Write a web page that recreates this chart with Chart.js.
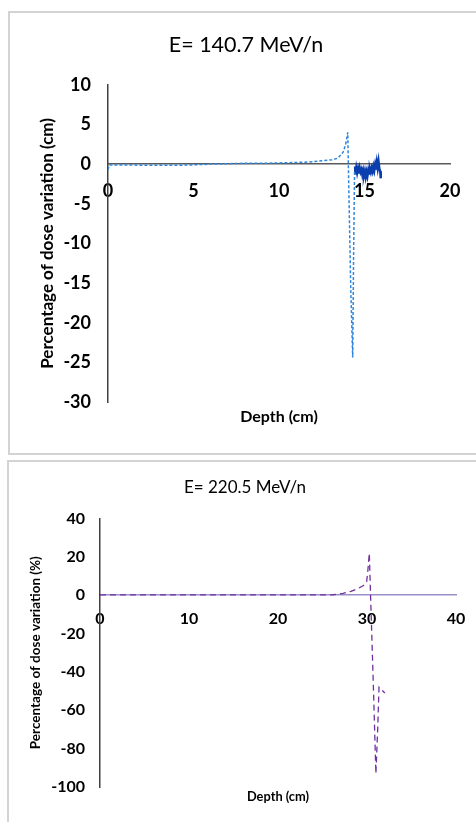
<!DOCTYPE html>
<html>
<head>
<meta charset="utf-8">
<script src="https://cdn.jsdelivr.net/npm/chart.js@4.4.1/dist/chart.umd.min.js"></script>
<style>
    html, body { margin: 0; padding: 0; background: #ffffff; overflow: hidden; }
    body { width: 476px; height: 822px; position: relative; }
    .box { position: absolute; border: 2px solid #d3d3d3; box-sizing: border-box; background: #fff; }
    #box1 { left: 8px; top: 11px; width: 600px; height: 444px; }
    #box2 { left: 7px; top: 460px; width: 600px; height: 420px; }
    .wrap { position: absolute; }
    #wrap1 { left: 10px; top: 13px; width: 472px; height: 440px; }
    #wrap2 { left: 9px; top: 462px; width: 472px; height: 360px; }
</style>
</head>
<body>
<div class="box" id="box1"></div>
<div class="box" id="box2"></div>
<div class="wrap" id="wrap1"><canvas id="chart140"></canvas></div>
<div class="wrap" id="wrap2"><canvas id="chart220"></canvas></div>
<script>
// E = 140.7 MeV/n : dashed series
const depth140 = [0, 0.08, 1, 2, 3, 4, 5, 6, 7, 8, 9, 10, 11, 12, 12.6, 13.1, 13.45, 13.75, 13.9, 14.02, 14.1, 14.2, 14.31, 14.36, 14.42];
const dose140 = [-0.7, -0.1, -0.1, -0.15, -0.15, -0.15, -0.1, 0, 0.05, 0.1, 0.1, 0.15, 0.2, 0.3, 0.45, 0.55, 0.75, 1.5, 2.5, 4.0, -5, -16, -24.4, -12, -0.8];

// E = 140.7 MeV/n : noisy tail after the peak
const depthTail140 = [14.45, 14.47, 14.52, 14.57, 14.62, 14.67, 14.72, 14.77, 14.82, 14.87, 14.92, 14.97, 15.02, 15.07, 15.12, 15.17,
    15.22, 15.27, 15.32, 15.37, 15.42, 15.47, 15.52, 15.57, 15.62, 15.67, 15.72, 15.77, 15.82, 15.87, 15.92, 15.95];
const doseTail140 = [-0.3, -1.3, -0.5, -1.1, -0.6, -1.2, -0.5, -1.0, -0.7, -1.3, -0.8, -1.4, -0.9, -1.6, -1.0, -1.5,
    -0.8, -1.2, -0.6, -1.0, -0.5, -0.9, -0.3, -0.8, -0.1, -0.7, 0.2, -0.5, 0.3, -0.6, -0.9, -1.8];

// E = 220.5 MeV/n
const depth220 = [0, 5, 10, 15, 20, 24, 26.2, 27.3, 28.2, 29.0, 29.6, 29.96, 30.1, 30.26, 30.4, 30.7, 31.0, 31.2, 31.35, 32.0];
const dose220 = [0.1, 0.1, 0.1, 0.1, 0.1, 0.1, 0.2, 0.9, 2.0, 3.5, 5.0, 7.0, 13, 21.8, 0, -45, -93, -70, -48, -51];

const xTicks140 = { min: 0, max: 20, step: 5 };
const yTicks140 = { min: -30, max: 10, step: 5 };
const xTicks220 = { min: 0, max: 40, step: 10 };
const yTicks220 = { min: -100, max: 40, step: 20 };

Chart.defaults.font.family = "'Lato', 'Open Sans', sans-serif";
Chart.defaults.color = '#000000';
Chart.defaults.animation = false;

function toPoints(xs, ys) {
    return xs.map(function(x, i) { return { x: x, y: ys[i] }; });
}

function makeChart(id, cfg) {
    new Chart(document.getElementById(id).getContext('2d'), {
        type: 'scatter',
        data: { datasets: cfg.datasets },
        options: {
            responsive: true,
            maintainAspectRatio: false,
            events: [],
            layout: { padding: 0 },
            plugins: {
                legend: { display: false },
                tooltip: { enabled: false },
                title: {
                    display: true,
                    text: cfg.title,
                    color: '#000000',
                    font: { size: cfg.titleSize, weight: 'normal' },
                    padding: cfg.titlePad
                }
            },
            scales: {
                x: {
                    type: 'linear',
                    position: { y: 0 },
                    min: cfg.xt.min, max: cfg.xt.max,
                    grid: { display: false, drawTicks: false },
                    border: { display: true, color: cfg.xAxisColor, width: 1.5 },
                    ticks: {
                        stepSize: cfg.xt.step,
                        padding: cfg.xTickPad,
                        color: '#000000',
                        font: { size: cfg.tickSize, weight: 'bold' }
                    }
                },
                xt: {
                    type: 'linear',
                    axis: 'x',
                    position: 'bottom',
                    grid: { display: false, drawTicks: false },
                    border: { display: false },
                    ticks: { display: false },
                    title: {
                        display: true,
                        text: 'Depth (cm)',
                        color: '#000000',
                        font: { size: cfg.xTitleSize, weight: 'bold' },
                        padding: { top: 0, bottom: cfg.xTitlePad }
                    },
                    afterFit: function(s) { s.height = cfg.bottomSpace; }
                },
                y: {
                    type: 'linear',
                    position: 'left',
                    min: cfg.yt.min, max: cfg.yt.max,
                    grid: { display: false, drawTicks: false },
                    border: { display: true, color: '#404040', width: 1.5 },
                    ticks: {
                        stepSize: cfg.yt.step,
                        padding: cfg.yTickPad,
                        color: '#000000',
                        font: { size: cfg.tickSize, weight: 'bold' }
                    },
                    title: {
                        display: true,
                        text: cfg.yTitle,
                        color: '#000000',
                        font: { size: cfg.yTitleSize, weight: 'bold' },
                        padding: { top: cfg.yTitlePad, bottom: 0 }
                    },
                    afterFit: function(s) { s.width = cfg.leftSpace; }
                },
                yr: {
                    type: 'linear',
                    axis: 'y',
                    position: 'right',
                    grid: { display: false, drawTicks: false },
                    border: { display: false },
                    ticks: { display: false },
                    afterFit: function(s) { s.width = cfg.rightSpace; }
                }
            }
        }
    });
}

makeChart('chart140', {
    title: 'E= 140.7 MeV/n',
    titleSize: 21.5,
    titlePad: { top: 19, bottom: 27 },
    leftSpace: 98,
    rightSpace: 32,
    bottomSpace: 51,
    tickSize: 18,
    xTickPad: 16,
    yTickPad: 17,
    xTitleSize: 16,
    xTitlePad: 27,
    yTitle: 'Percentage of dose variation (cm)',
    yTitleSize: 17,
    yTitlePad: 27,
    xAxisColor: '#5a5a5a',
    xt: xTicks140,
    yt: yTicks140,
    datasets: [
        {
            data: toPoints(depth140, dose140),
            showLine: true,
            borderColor: '#2f86dc',
            borderWidth: 1.5,
            borderDash: [3, 2],
            pointRadius: 0,
            tension: 0
        },
        {
            data: toPoints(depthTail140, doseTail140),
            showLine: true,
            borderColor: '#0b3fae',
            borderWidth: 2.5,
            pointRadius: 0,
            tension: 0
        }
    ]
});

makeChart('chart220', {
    title: 'E= 220.5 MeV/n',
    titleSize: 17,
    titlePad: { top: 15, bottom: 21 },
    leftSpace: 91,
    rightSpace: 25,
    bottomSpace: 35,
    tickSize: 16,
    xTickPad: 14,
    yTickPad: 15,
    xTitleSize: 12.8,
    xTitlePad: 17,
    yTitle: 'Percentage of dose variation (%)',
    yTitleSize: 13.5,
    yTitlePad: 19,
    xAxisColor: '#9b8fc9',
    xt: xTicks220,
    yt: yTicks220,
    datasets: [
        {
            data: toPoints(depth220, dose220),
            showLine: true,
            borderColor: '#7030a0',
            borderWidth: 1.3,
            borderDash: [6, 4],
            pointRadius: 0,
            tension: 0
        }
    ]
});
</script>
</body>
</html>
